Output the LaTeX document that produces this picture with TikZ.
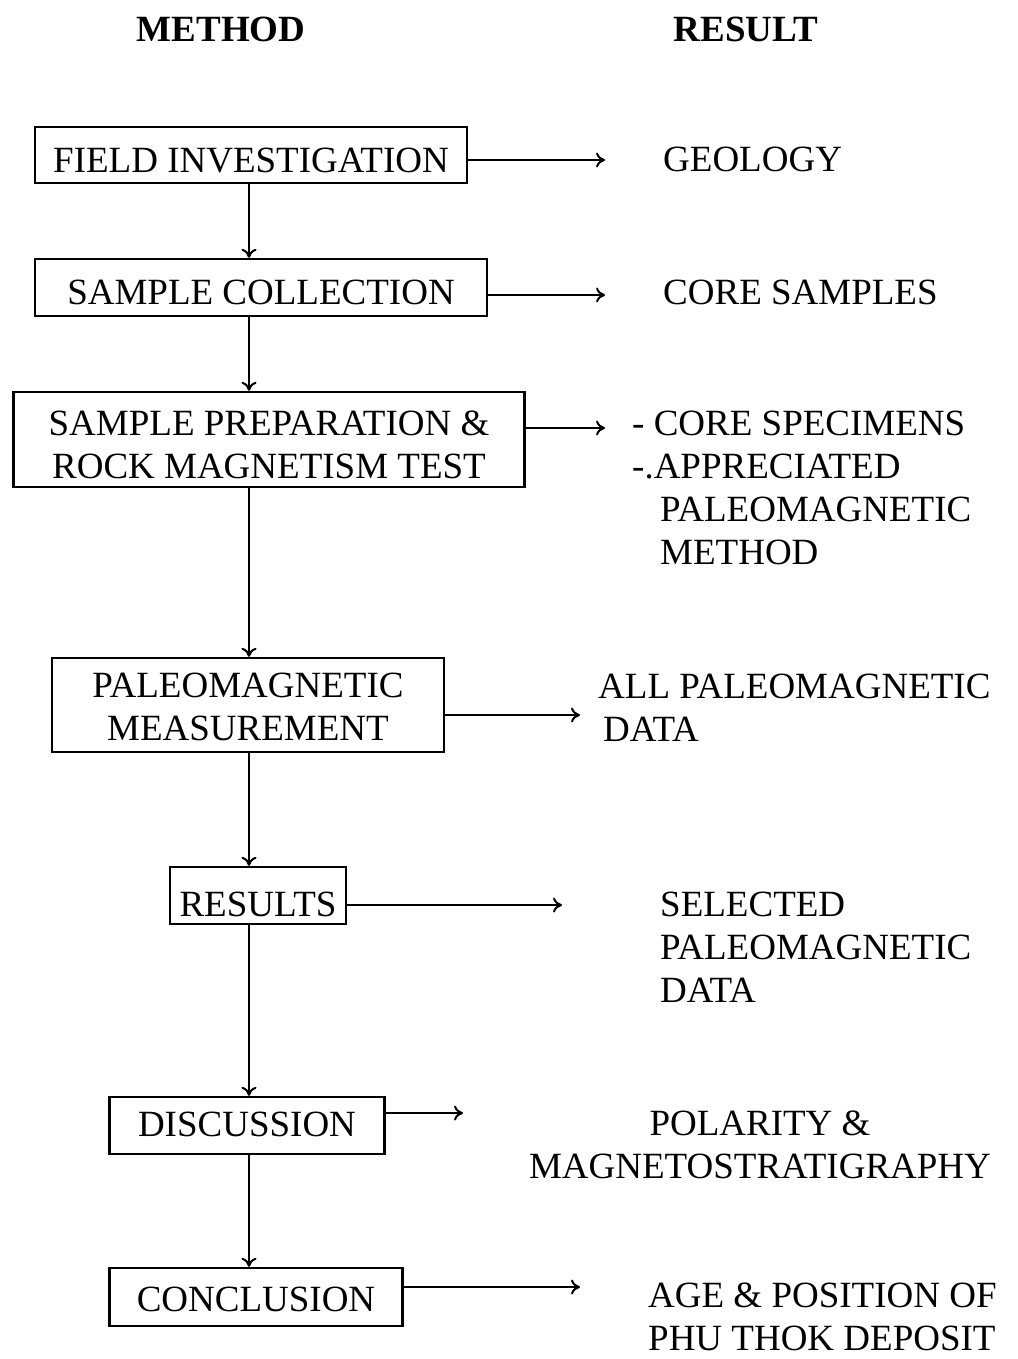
\documentclass[tikz,border=0pt]{standalone}
\usepackage{fontspec}
\setmainfont{Liberation Serif}
\usetikzlibrary{arrows.meta}

\begin{document}
\begin{tikzpicture}[x=1pt, y=-1pt, >={To[length=9pt, width=15pt]}]
        \tikzset{step box/.style = {draw, line width=2.4pt, inner sep=0pt, align=center, anchor=base, font=\fontsize{37}{43}\selectfont}}
        \tikzset{result/.style = {inner sep=0pt, align=left, anchor=base west, font=\fontsize{37}{43}\selectfont}}
        \tikzset{title/.style = {inner sep=0pt, anchor=base, font=\fontsize{37}{43}\selectfont\bfseries}}
        \tikzset{flow/.style = {->, line width=2pt}}
        \fill[white] (0,0) rectangle (1017,1359);
        \useasboundingbox (0,0) rectangle (1017,1359);
        % headings
        \node[title] (method) at (221,42) {METHOD};
        \node[title] (result) at (746,42) {RESULT};
        % method boxes (anchored at the last baseline)
        \node[step box, minimum width=432pt, text height=46pt, text depth=10pt] (field) at (251,173) {FIELD INVESTIGATION};
        \node[step box, minimum width=452pt, text height=45pt, text depth=12pt] (collect) at (261,304) {SAMPLE COLLECTION};
        \node[step box, minimum width=511pt, text height=86pt, text depth=9pt] (prep) at (269,478) {SAMPLE PREPARATION \&\\ROCK MAGNETISM TEST};
        \node[step box, minimum width=392pt, text height=82pt, text depth=12pt] (measure) at (248,740) {PALEOMAGNETIC\\MEASUREMENT};
        \node[step box, minimum width=176pt, text height=49pt, text depth=8pt] (results) at (258,916) {RESULTS};
        \node[step box, minimum width=275pt, text height=39pt, text depth=18pt] (discuss) at (247,1136) {DISCUSSION};
        \node[step box, minimum width=293pt, text height=43pt, text depth=15pt] (concl) at (256,1311) {CONCLUSION};
        % results
        \node[result] (geology) at (663,172) {GEOLOGY};
        \node[result] (cores) at (663,304) {CORE SAMPLES};
        \node[result] (specimens) at (632,564) {- CORE SPECIMENS\\-.APPRECIATED\\\hspace*{28pt}PALEOMAGNETIC\\\hspace*{28pt}METHOD};
        \node[result] (alldata) at (598,741) {ALL PALEOMAGNETIC\\\hspace*{5pt}DATA};
        \node[result] (selected) at (660,1002) {SELECTED\\PALEOMAGNETIC\\DATA};
        \node[result, align=center, anchor=base] (polarity) at (760,1178) {POLARITY \&\\MAGNETOSTRATIGRAPHY};
        \node[result] (age) at (648,1350) {AGE \& POSITION OF\\PHU THOK DEPOSIT};
        % arrow ends
        \coordinate (spine) at (249,0);
        \coordinate (t1) at (605,160);
        \coordinate (t2) at (605,295);
        \coordinate (t3) at (605,428);
        \coordinate (t4) at (580,715);
        \coordinate (t5) at (562,905);
        \coordinate (t6) at (463,1113);
        \coordinate (t7) at (580,1287);
        % down the method column
        \draw[flow] (field.south -| spine) to (collect.north -| spine);
        \draw[flow] (collect.south -| spine) to (prep.north -| spine);
        \draw[flow] (prep.south -| spine) to (measure.north -| spine);
        \draw[flow] (measure.south -| spine) to (results.north -| spine);
        \draw[flow] (results.south -| spine) to (discuss.north -| spine);
        \draw[flow] (discuss.south -| spine) to (concl.north -| spine);
        % across to the results
        \draw[flow] (field.east |- t1) to (t1);
        \draw[flow] (collect.east |- t2) to (t2);
        \draw[flow] (prep.east |- t3) to (t3);
        \draw[flow] (measure.east |- t4) to (t4);
        \draw[flow] (results.east |- t5) to (t5);
        \draw[flow] (discuss.east |- t6) to (t6);
        \draw[flow] (concl.east |- t7) to (t7);
\end{tikzpicture}
\end{document}
